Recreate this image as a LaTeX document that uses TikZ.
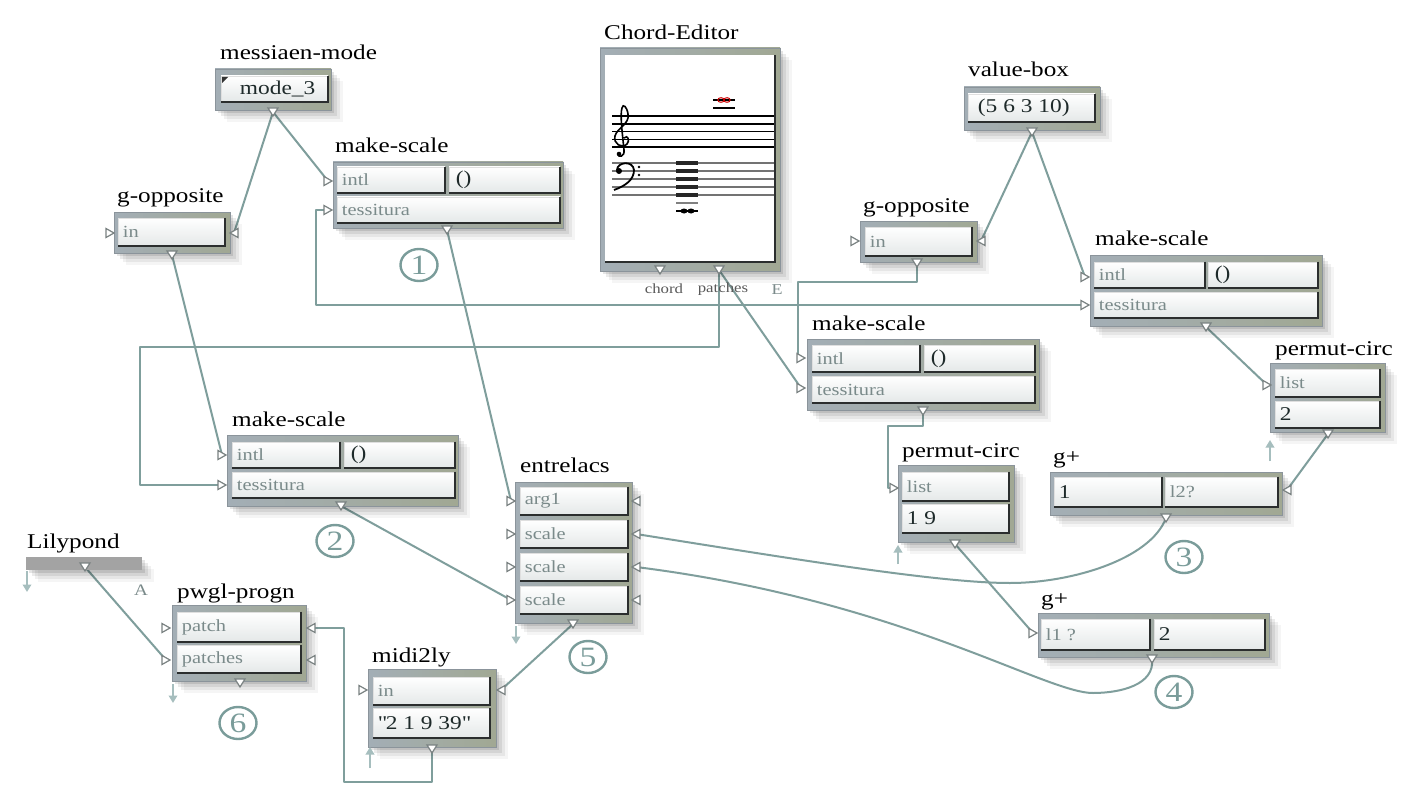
\documentclass[tikz,border=0pt]{standalone}
\usepackage{fontspec}
\setmainfont{Liberation Serif}[FakeStretch=1.2]
\usetikzlibrary{fit,arrows.meta,shapes.geometric}
\definecolor{wirec}{HTML}{7F9E9C}
\definecolor{frameL}{HTML}{A3AEB6}
\definecolor{frameR}{HTML}{A1A893}
\definecolor{fieldbot}{HTML}{E4E8E8}
\definecolor{edgec}{HTML}{2B2E2E}
\definecolor{labelc}{HTML}{7A8A8A}
\definecolor{valuec}{HTML}{1E2A2A}
\definecolor{portc}{HTML}{7A8282}
\definecolor{arrowc}{HTML}{A6BEBE}
\definecolor{circc}{HTML}{7A9C9A}
\definecolor{barc}{HTML}{A3A3A3}
\tikzset{
  frameshade/.style={inner sep=0pt, left color=frameL, right color=frameR, draw=frameL!85!black, line width=0.6pt},
  fieldshade/.style={inner sep=0pt, top color=white, bottom color=fieldbot, draw=white!75!gray, line width=0.6pt},
  fieldedge/.style={draw=edgec, line width=2pt},
  titletext/.style={inner sep=0pt, anchor=base west, font=\fontsize{21}{24}\selectfont, text=black},
  labeltext/.style={inner sep=0pt, anchor=west, font=\fontsize{17}{20}\selectfont, text=labelc},
  valuetext/.style={inner sep=0pt, anchor=west, font=\fontsize{19.5}{22}\selectfont, text=valuec},
  smalltext/.style={inner sep=0pt, font=\fontsize{14}{16}\selectfont, text=black!65},
  wire/.style={draw=wirec, line width=2pt, line join=round},
  smallarrow/.style={draw=arrowc, line width=1.8pt, -{Triangle[width=8.5pt,length=7.5pt]}},
  circnum/.style={ellipse, draw=circc, line width=2.4pt, minimum width=37pt, minimum height=32pt, inner sep=0pt, text=circc, font=\fontsize{28}{30}\selectfont},
  pics/outport/.style={code={\draw[draw=portc, fill=white, line width=1.2pt] (-5pt,4pt) -- (5pt,4pt) -- (0pt,-4pt) -- cycle;}},
  pics/inport/.style={code={\draw[draw=portc, fill=white, line width=1.2pt] (-4pt,4.5pt) -- (4pt,0pt) -- (-4pt,-4.5pt) -- cycle;}},
  pics/rinport/.style={code={\draw[draw=portc, fill=white, line width=1.2pt] (4pt,4.5pt) -- (-4pt,0pt) -- (4pt,-4.5pt) -- cycle;}},
}
\newcommand{\pwshadow}[4]{\foreach \s/\o in {3/0.10,6/0.08,9/0.06,12/0.04}{\fill[black,opacity=\o] (#1+\s,#2+\s) rectangle (#3+\s,#4+\s);}}
\newcommand{\pwframe}[5]{\pwshadow{#2}{#3}{#4}{#5}\node[frameshade, fit={(#2,#3) (#4,#5)}] (#1) {};}
\newcommand{\pwfield}[7]{\node[fieldshade, fit={(#2,#3) (#4,#5)}] (#1) {};
  \draw[fieldedge] (#1.north east) -- (#1.south east) -- (#1.south west);
  \node[#6, xshift=5pt] (#1-txt) at (#1.west) {#7};}
\begin{document}
\begin{tikzpicture}[x=1pt,y=-1pt]
\fill[white] (0,0) rectangle (1409,797);
\useasboundingbox (0,0) rectangle (1409,797);

% ---------- port coordinates ----------
\coordinate (mm-out) at (273,112);
\coordinate (ms1-in1) at (328,181); \coordinate (ms1-in2) at (328,210); \coordinate (ms1-out) at (447,230);
\coordinate (go1-in) at (110,233); \coordinate (go1-rin) at (234,233); \coordinate (go1-out) at (172,255);
\coordinate (ce-out1) at (660,270); \coordinate (ce-out2) at (719,270);
\coordinate (vb-out) at (1032,132);
\coordinate (go2-in) at (855,241); \coordinate (go2-rin) at (981,241); \coordinate (go2-out) at (917,263);
\coordinate (ms3-in1) at (1085,277); \coordinate (ms3-in2) at (1085,305); \coordinate (ms3-out) at (1206,327);
\coordinate (pc1-in) at (1267,385); \coordinate (pc1-out) at (1328,434);
\coordinate (gp1-rin) at (1287,490); \coordinate (gp1-out) at (1166,518);
\coordinate (ms2-in1) at (801,358); \coordinate (ms2-in2) at (801,388); \coordinate (ms2-out) at (923,411);
\coordinate (pc2-in) at (894,488); \coordinate (pc2-out) at (955,544);
\coordinate (gp2-in) at (1033,633); \coordinate (gp2-out) at (1152,659);
\coordinate (ms4-in1) at (222,455); \coordinate (ms4-in2) at (222,485); \coordinate (ms4-out) at (341,506);
\coordinate (ent-in1) at (511,501); \coordinate (ent-in2) at (511,534); \coordinate (ent-in3) at (511,567); \coordinate (ent-in4) at (511,600);
\coordinate (ent-rin1) at (636,501); \coordinate (ent-rin2) at (636,534); \coordinate (ent-rin3) at (636,567); \coordinate (ent-rin4) at (636,600);
\coordinate (ent-out) at (573,624);
\coordinate (m2l-in) at (363,690); \coordinate (m2l-rin) at (501,690); \coordinate (m2l-out) at (432,749);
\coordinate (pp-in1) at (166,628); \coordinate (pp-in2) at (166,660); \coordinate (pp-rin1) at (311,628); \coordinate (pp-rin2) at (311,660); \coordinate (pp-out) at (240,683);
\coordinate (lp-out) at (85,567);
\coordinate (bus1) at (316,305);
\coordinate (bus2) at (140,347);
\coordinate (bus3) at (798,282);
\coordinate (bus4) at (888,426);
\coordinate (bus5) at (344,782);
\coordinate (bot3) at (1010,583);
\coordinate (bot4) at (1093,693);

% ---------- wires ----------
\draw[wire] (mm-out) -- (go1-rin);
\draw[wire] (mm-out) -- (ms1-in1);
\draw[wire] (ce-out2) |- (bus1) |- (ms1-in2);
\draw[wire] (ce-out2) |- (ms3-in2);
\draw[wire] (ce-out2) |- (bus2) |- (ms4-in2);
\draw[wire] (ce-out2) -- (ms2-in2);
\draw[wire] (vb-out) -- (go2-rin);
\draw[wire] (vb-out) -- (ms3-in1);
\draw[wire] (go2-out) |- (bus3) |- (ms2-in1);
\draw[wire] (ms3-out) -- (pc1-in);
\draw[wire] (pc1-out) -- (gp1-rin);
\draw[wire] (gp1-out) .. controls (1150,560) and (1070,583) .. (bot3) .. controls (940,583) and (800,560) .. (ent-rin2);
\draw[wire] (ms2-out) |- (bus4) |- (pc2-in);
\draw[wire] (pc2-out) -- (gp2-in);
\draw[wire] (gp2-out) .. controls (1155,685) and (1120,693) .. (bot4) .. controls (1045,693) and (900,600) .. (ent-rin3);
\draw[wire] (go1-out) -- (ms4-in1);
\draw[wire] (ms1-out) -- (ent-in1);
\draw[wire] (ms4-out) -- (ent-in4);
\draw[wire] (ent-out) -- (m2l-rin);
\draw[wire] (m2l-out) |- (bus5) |- (pp-rin1);
\draw[wire] (lp-out) -- (pp-in2);

% ---------- messiaen-mode ----------
\node[titletext] (mm-t) at (220,60) {messiaen-mode};
\pwframe{mm}{215}{69}{331}{110}
\pwfield{mm-f1}{221}{76}{328}{102}{valuetext,xshift=14pt}{mode\_3}
\fill[black!80] (222,77) -- (228,77) -- (222,83) -- cycle;

% ---------- make-scale 1 ----------
\node[titletext] (ms1-t) at (335,153) {make-scale};
\pwframe{ms1}{333}{162}{563}{228}
\pwfield{ms1-f1}{337}{167}{445}{193}{labeltext}{intl}
\pwfield{ms1-f2}{449}{167}{560}{193}{valuetext,xshift=2pt}{()}
\pwfield{ms1-f3}{337}{197}{560}{223}{labeltext}{tessitura}

% ---------- g-opposite 1 ----------
\node[titletext] (go1-t) at (117,202) {g-opposite};
\pwframe{go1}{114}{212}{230}{253}
\pwfield{go1-f1}{118}{218}{225}{246}{labeltext}{in}

% ---------- Chord-Editor ----------
\node[titletext] (ce-t) at (604,40) {Chord-Editor};
\pwframe{ce}{600}{48}{780}{271}
\node[fill=white, inner sep=0pt, fit={(605,55) (775,262)}] (ce-in) {};
\draw[fieldedge] (ce-in.north east) -- (ce-in.south east) -- (ce-in.south west);
\foreach \yy in {116,123.8,131.6,139.4,147.2} {\draw[black, line width=1.5pt] (612,\yy) -- (774,\yy);}
\foreach \yy in {163,171,179,187,195} {\draw[black!55, line width=1.8pt] (612,\yy) -- (774,\yy);
  \fill[black!85] (676,\yy-2) rectangle (698,\yy+2);}
\draw[black!50, line width=1.5pt] (676,203) -- (698,203);
\draw[black, line width=1.5pt] (676,211) -- (698,211);
\fill[black] (684,211) ellipse (3.5 and 2.5);
\fill[black] (691,211) ellipse (3.5 and 2.5);
\draw[black, line width=1.5pt] (713,100) -- (735,100);
\draw[black, line width=1.5pt] (713,108) -- (735,108);
\draw[red!80!black, line width=1pt] (721,100) ellipse (3.2 and 2.3);
\draw[red!80!black, line width=1pt] (727,100) ellipse (3.2 and 2.3);
% treble clef
\draw[black, line width=1.6pt] (624,138) .. controls (628,134) and (630,141) .. (627,144)
  .. controls (622,149) and (613,144) .. (615,136)
  .. controls (617,128) and (630,124) .. (628,114)
  .. controls (627,107) and (623,103) .. (622,108)
  .. controls (620,115) and (622,130) .. (624,150)
  .. controls (625,157) and (618,158) .. (618,154);
\fill[black] (619,154) circle (2.3);
% bass clef
\fill[black] (619,171) circle (3);
\draw[black, line width=1.8pt] (617,170) .. controls (617,162) and (633,160) .. (634,170) .. controls (634,180) and (625,186) .. (614,190);
\fill[black] (639,167) circle (1.4);
\fill[black] (639,175) circle (1.4);
\node[smalltext] (ce-l1) at (664,289) {chord};
\node[smalltext] (ce-l2) at (723,289) {patches};
\node[smalltext, text=labelc, font=\fontsize{15}{17}\selectfont] (ce-e) at (777,290) {E};

% ---------- value-box ----------
\node[titletext] (vb-t) at (968,77) {value-box};
\pwframe{vb}{964}{87}{1100}{130}
\pwfield{vb-f1}{968}{94}{1095}{122}{valuetext,xshift=5pt}{(5 6 3 10)}

% ---------- g-opposite 2 ----------
\node[titletext] (go2-t) at (863,212) {g-opposite};
\pwframe{go2}{860}{221}{977}{262}
\pwfield{go2-f1}{865}{227}{972}{256}{labeltext}{in}

% ---------- make-scale 3 ----------
\node[titletext] (ms3-t) at (1095,245) {make-scale};
\pwframe{ms3}{1090}{255}{1322}{326}
\pwfield{ms3-f1}{1094}{262}{1205}{288}{labeltext}{intl}
\pwfield{ms3-f2}{1208}{262}{1318}{288}{valuetext,xshift=2pt}{()}
\pwfield{ms3-f3}{1094}{292}{1318}{318}{labeltext}{tessitura}

% ---------- permut-circ 1 ----------
\node[titletext] (pc1-t) at (1275,355) {permut-circ};
\pwframe{pc1}{1270}{363}{1385}{432}
\pwfield{pc1-f1}{1275}{369}{1380}{397}{labeltext}{list}
\pwfield{pc1-f2}{1275}{401}{1380}{428}{valuetext}{2}

% ---------- g+ 1 ----------
\node[titletext] (gp1-t) at (1053,463) {g+};
\pwframe{gp1}{1050}{472}{1282}{515}
\pwfield{gp1-f1}{1054}{477}{1162}{507}{valuetext}{1}
\pwfield{gp1-f2}{1165}{477}{1278}{507}{labeltext}{l2?}

% ---------- make-scale 2 ----------
\node[titletext] (ms2-t) at (812,330) {make-scale};
\pwframe{ms2}{807}{339}{1039}{410}
\pwfield{ms2-f1}{812}{345}{920}{372}{labeltext}{intl}
\pwfield{ms2-f2}{924}{345}{1035}{372}{valuetext,xshift=2pt}{()}
\pwfield{ms2-f3}{812}{376}{1035}{403}{labeltext}{tessitura}

% ---------- permut-circ 2 ----------
\node[titletext] (pc2-t) at (902,457) {permut-circ};
\pwframe{pc2}{898}{465}{1014}{542}
\pwfield{pc2-f1}{902}{472}{1009}{501}{labeltext}{list}
\pwfield{pc2-f2}{902}{504}{1009}{533}{valuetext}{1 9}

% ---------- g+ 2 ----------
\node[titletext] (gp2-t) at (1041,605) {g+};
\pwframe{gp2}{1038}{613}{1269}{657}
\pwfield{gp2-f1}{1041}{619}{1150}{650}{labeltext}{l1 ?}
\pwfield{gp2-f2}{1154}{619}{1265}{650}{valuetext}{2}

% ---------- make-scale 4 ----------
\node[titletext] (ms4-t) at (232,426) {make-scale};
\pwframe{ms4}{227}{435}{458}{506}
\pwfield{ms4-f1}{232}{442}{340}{468}{labeltext}{intl}
\pwfield{ms4-f2}{344}{442}{455}{468}{valuetext,xshift=2pt}{()}
\pwfield{ms4-f3}{232}{472}{455}{498}{labeltext}{tessitura}

% ---------- entrelacs ----------
\node[titletext] (ent-t) at (520,472) {entrelacs};
\pwframe{ent}{515}{482}{632}{623}
\pwfield{ent-f1}{520}{487}{628}{515}{labeltext}{arg1}
\pwfield{ent-f2}{520}{520}{628}{548}{labeltext}{scale}
\pwfield{ent-f3}{520}{553}{628}{581}{labeltext}{scale}
\pwfield{ent-f4}{520}{586}{628}{614}{labeltext}{scale}

% ---------- midi2ly ----------
\node[titletext] (m2l-t) at (372,662) {midi2ly};
\pwframe{m2l}{368}{669}{496}{747}
\pwfield{m2l-f1}{373}{677}{490}{705}{labeltext}{in}
\pwfield{m2l-f2}{373}{708}{490}{738}{valuetext}{\textquotedbl 2 1 9 39\textquotedbl}

% ---------- pwgl-progn ----------
\node[titletext] (pp-t) at (177,598) {pwgl-progn};
\pwframe{pp}{172}{605}{306}{681}
\pwfield{pp-f1}{177}{612}{301}{642}{labeltext}{patch}
\pwfield{pp-f2}{177}{645}{301}{673}{labeltext}{patches}

% ---------- Lilypond ----------
\node[titletext] (lp-t) at (27,548) {Lilypond};
\pwshadow{26}{557}{142}{570}
\node[fill=barc, inner sep=0pt, fit={(26,557) (142,570)}] (lp) {};
\node[smalltext, text=labelc, font=\fontsize{16}{18}\selectfont] (lp-a) at (141,590) {A};

% ---------- ports ----------
\foreach \p in {mm-out,ms1-out,go1-out,ce-out1,ce-out2,vb-out,go2-out,ms3-out,pc1-out,gp1-out,ms2-out,pc2-out,gp2-out,ms4-out,ent-out,m2l-out,pp-out,lp-out}
  {\pic at (\p) {outport};}
\foreach \p in {ms1-in1,ms1-in2,go1-in,go2-in,ms3-in1,ms3-in2,pc1-in,ms2-in1,ms2-in2,pc2-in,gp2-in,ms4-in1,ms4-in2,ent-in1,ent-in2,ent-in3,ent-in4,m2l-in,pp-in1,pp-in2}
  {\pic at (\p) {inport};}
\foreach \p in {go1-rin,go2-rin,gp1-rin,ent-rin1,ent-rin2,ent-rin3,ent-rin4,m2l-rin,pp-rin1,pp-rin2}
  {\pic at (\p) {rinport};}

% ---------- small arrows ----------
\coordinate (a1s) at (1270,461); \coordinate (a1e) at (1270,440);
\coordinate (a2s) at (898,564); \coordinate (a2e) at (898,545);
\coordinate (a3s) at (516,626); \coordinate (a3e) at (516,644);
\coordinate (a4s) at (370,768); \coordinate (a4e) at (370,747);
\coordinate (a5s) at (173,684); \coordinate (a5e) at (173,703);
\coordinate (a6s) at (27,571); \coordinate (a6e) at (27,592);
\foreach \i in {1,...,6} {\draw[smallarrow] (a\i s) -- (a\i e);}

% ---------- circled numbers ----------
\node[circnum] (c1) at (419,265) {1};
\node[circnum] (c2) at (335,541) {2};
\node[circnum] (c3) at (1184,557) {3};
\node[circnum] (c4) at (1174,692) {4};
\node[circnum] (c5) at (588,657) {5};
\node[circnum] (c6) at (238,723) {6};
\end{tikzpicture}
\end{document}
